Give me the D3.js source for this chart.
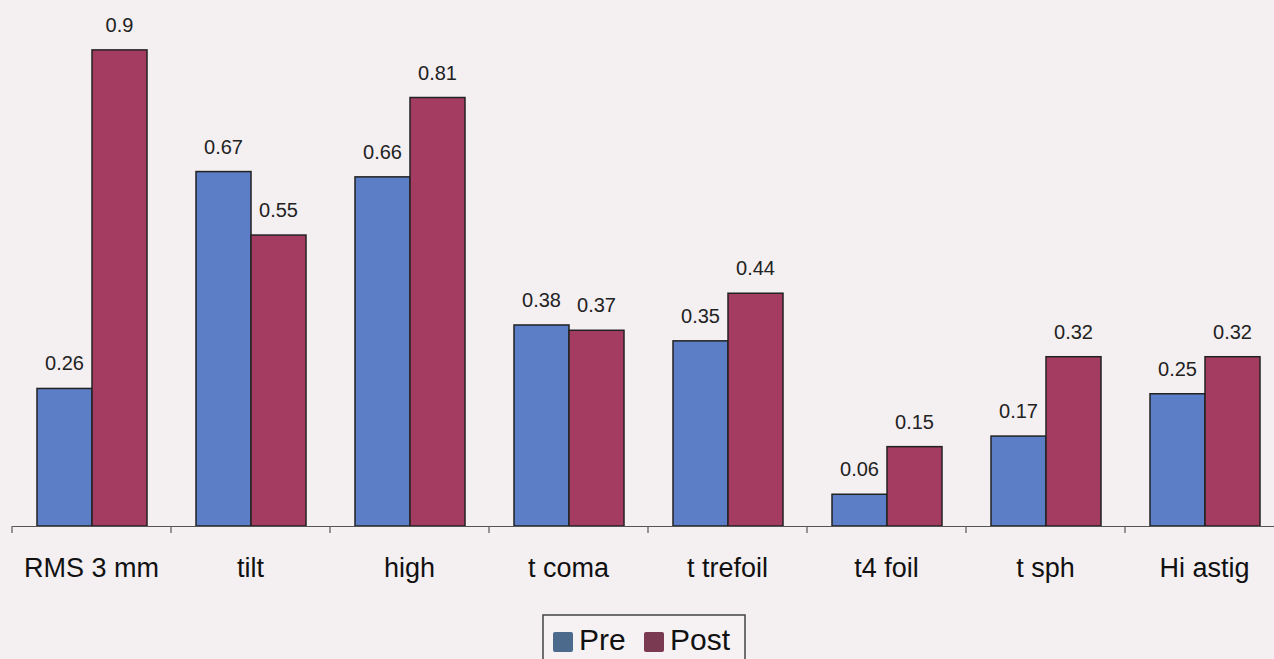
<!DOCTYPE html>
<html><head><meta charset="utf-8">
<script src="https://cdn.jsdelivr.net/npm/d3@7"></script>
<style>
html,body{margin:0;padding:0;background:#f4eff1;overflow:hidden}
svg{display:block}
</style></head>
<body>
<script>
const categories = ["RMS 3 mm","tilt","high","t coma","t trefoil","t4 foil","t sph","Hi astig"];
const preValues  = [0.26,0.67,0.66,0.38,0.35,0.06,0.17,0.25];
const postValues = [0.9,0.55,0.81,0.37,0.44,0.15,0.32,0.32];
const seriesNames = ["Pre","Post"];
const barColors = ["#5b7ec6","#a33c60"];
const legendColors = ["#4b6a8c","#7a3a52"];

const W=1274,H=659;
const font="Liberation Sans, Arial, sans-serif";
const svg=d3.select("body").append("svg").attr("width",W).attr("height",H);
svg.append("rect").attr("width",W).attr("height",H).attr("fill","#f4eff1");

const baseY=526;
const y=d3.scaleLinear().domain([0,1]).range([baseY,baseY-529]);
const x=d3.scaleBand().domain(categories).range([12,12+8*159]).paddingInner(0).paddingOuter(0);
const x1=d3.scaleBand().domain(seriesNames).range([25,135]).padding(0);

const data=categories.map((c,i)=>({cat:c,vals:[preValues[i],postValues[i]]}));

const g=svg.append("g");
const groups=g.selectAll("g.grp").data(data).join("g").attr("transform",d=>`translate(${x(d.cat)},0)`);
groups.selectAll("rect").data(d=>d.vals.map((v,j)=>({v,s:seriesNames[j],j})))
 .join("rect")
 .attr("x",d=>x1(d.s)).attr("width",x1.bandwidth())
 .attr("y",d=>y(d.v)).attr("height",d=>baseY-y(d.v))
 .attr("fill",d=>barColors[d.j]).attr("stroke","#222").attr("stroke-width",1.5);
groups.selectAll("text.val").data(d=>d.vals.map((v,j)=>({v,s:seriesNames[j],j})))
 .join("text").attr("class","val")
 .attr("x",d=>x1(d.s)+x1.bandwidth()/2).attr("y",d=>y(d.v)-18)
 .attr("text-anchor","middle").attr("font-family",font)
 .attr("font-size",20).attr("fill","#222").text(d=>d.v);

// axis
const axis=d3.axisBottom(x).tickSize(0).tickFormat(d=>d);
const ax=svg.append("g").attr("transform",`translate(0,${baseY})`).call(axis);
ax.select(".domain").attr("stroke","#555").attr("stroke-width",1.2);
ax.selectAll(".tick text").attr("font-family",font).attr("font-size",27).attr("fill","#111")
  .attr("dy",null).attr("y",51);
// tick marks at band boundaries
const bounds=categories.map(c=>x(c));
ax.selectAll("line.bt").data(bounds).join("line").attr("class","bt")
 .attr("x1",d=>d).attr("x2",d=>d).attr("y1",0).attr("y2",7).attr("stroke","#555").attr("stroke-width",1.2);

// legend
const lg=svg.append("g").attr("transform","translate(543,615)");
lg.append("rect").attr("width",202).attr("height",50).attr("fill","#f6f2f4").attr("stroke","#444").attr("stroke-width",1.5);
const items=lg.selectAll("g.it").data(seriesNames).join("g").attr("class","it")
 .attr("transform",(d,i)=>`translate(${i===0?10:101},0)`);
items.append("rect").attr("x",0).attr("y",17).attr("width",20).attr("height",20).attr("rx",2).attr("fill",(d,i)=>legendColors[i]);
items.append("text").attr("x",26).attr("y",35).attr("font-family",font).attr("font-size",30).attr("fill","#111").text(d=>d);
</script>
</body></html>
